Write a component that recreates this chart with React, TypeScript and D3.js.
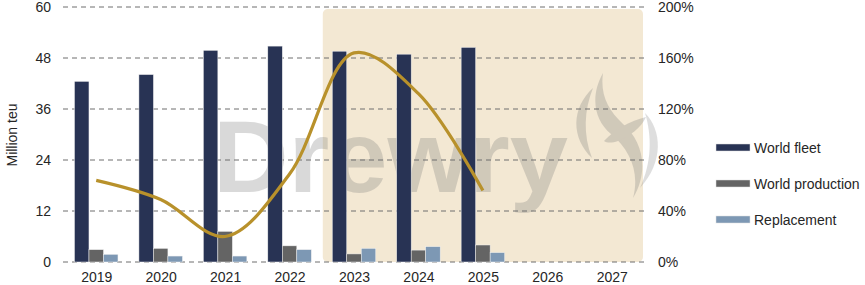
import React from "react";
import * as d3 from "d3";

const years = ["2019", "2020", "2021", "2022", "2023", "2024", "2025", "2026", "2027"];
const worldFleet = [42.5, 44.1, 49.8, 50.8, 49.6, 48.9, 50.5, null, null];
const worldProduction = [2.9, 3.2, 7.2, 3.8, 1.9, 2.8, 4.0, null, null];
const replacement = [1.8, 1.4, 1.4, 2.9, 3.2, 3.6, 2.2, null, null];
const ratioPct = [64, 49, 20, 69, 164, 132, 56, null, null];
const leftTicks = [0, 12, 24, 36, 48, 60];
const rightTicks = [0, 40, 80, 120, 160, 200];
const shadeFrom = "2023";
const seriesNames = ["World fleet", "World production", "Replacement"];
const colors = ["#283354", "#646464", "#7d98b4"];
const lineColor = "#b8912b";

const W = 865, H = 285;
const x0 = 64, x1 = 644, yTop = 7, yBot = 262;
const font = "Liberation Sans, Arial, sans-serif";

export default function App() {
  const x = d3.scaleBand<string>().domain(years).range([x0, x1]).paddingInner(0).paddingOuter(0);
  const yL = d3.scaleLinear().domain([0, 60]).range([yBot, yTop]);
  const yR = d3.scaleLinear().domain([0, 200]).range([yBot, yTop]);
  const sub = d3.scaleBand<number>().domain([0, 1, 2]).range([0, 43.5]);
  const groupOffset = (x.bandwidth() - 43.5) / 2;
  const series = [worldFleet, worldProduction, replacement];

  const linePts = years
    .map((yr, i) => ({ yr, v: ratioPct[i] }))
    .filter((d) => d.v != null) as { yr: string; v: number }[];
  const line = d3
    .line<{ yr: string; v: number }>()
    .x((d) => (x(d.yr) as number) + x.bandwidth() / 2)
    .y((d) => yR(d.v))
    .curve(d3.curveCatmullRom.alpha(0.5));

  const shadeX = (x(shadeFrom) as number) + 1;

  return (
    <svg width={W} height={H} style={{ position: "absolute", left: 0, top: 0 }}>
      <rect x={0} y={0} width={W} height={H} fill="#ffffff" />
      {/* forecast shading */}
      <rect x={shadeX} y={9} width={643 - shadeX} height={yBot - 9} rx={5} fill="#f3e8d3" />
      {/* watermark */}
      <g opacity={0.28} fill="#7a7a7a">
        <text x={213} y={192} fontFamily={font} fontSize={102} fontWeight={700} textLength={355} lengthAdjust="spacingAndGlyphs">
          Drewry
        </text>
        <path d="M593,88 C571,108 571,138 592,158 C583,135 584,110 593,88 Z" />
        <path d="M603,73 C590,96 594,120 611,134 C630,150 640,172 633,198 C650,170 642,140 623,124 C608,110 600,95 603,73 Z" />
        <path d="M604,141 C615,129 630,121 646,117 C641,128 630,136 618,141 C612,143 607,143 604,141 Z" />
      </g>
      <path d="M645,113 C662,130 664,162 640,188 C652,162 652,136 645,113 Z" fill="#7a7a7a" opacity={0.25} />
      {/* gridlines */}
      {leftTicks.map((t) => (
        <line key={t} x1={x0 - 1} x2={x1 + 1} y1={yL(t)} y2={yL(t)} stroke="#6e6e6e" strokeWidth={1} strokeDasharray="5,4" />
      ))}
      {/* bars */}
      {series.map((s, si) =>
        s.map((v, i) =>
          v == null ? null : (
            <rect
              key={si + "-" + i}
              x={(x(years[i]) as number) + groupOffset + (sub(si) as number)}
              y={yL(v)}
              width={sub.bandwidth()}
              height={yBot - yL(v)}
              fill={colors[si]}
              stroke="#f0f0f0"
              strokeWidth={0.5}
            />
          )
        )
      )}
      {/* line */}
      <path d={line(linePts) || ""} fill="none" stroke={lineColor} strokeWidth={3.2} strokeLinecap="butt" />
      {/* left axis labels */}
      {leftTicks.map((t) => (
        <text key={t} x={51} y={yL(t)} dy="0.35em" textAnchor="end" fontFamily={font} fontSize={14} fill="#262626">
          {t}
        </text>
      ))}
      {/* right axis labels */}
      {rightTicks.map((t) => (
        <text key={t} x={658} y={yR(t)} dy="0.35em" textAnchor="start" fontFamily={font} fontSize={14} fill="#262626">
          {t + "%"}
        </text>
      ))}
      {/* x labels */}
      {years.map((yr) => (
        <text key={yr} x={(x(yr) as number) + x.bandwidth() / 2 + 0.5} y={282} textAnchor="middle" fontFamily={font} fontSize={14} fill="#262626">
          {yr}
        </text>
      ))}
      <text transform={`translate(17,135) rotate(-90)`} textAnchor="middle" fontFamily={font} fontSize={14} fill="#262626">
        Million teu
      </text>
      {/* legend */}
      {seriesNames.map((n, i) => (
        <g key={n} transform={`translate(716,${148 + i * 36})`}>
          <rect x={0} y={-4} width={34} height={7} fill={colors[i]} stroke="#e0e0e0" strokeWidth={0.5} />
          <text x={38} y={0} dy="0.35em" fontFamily={font} fontSize={14} fill="#262626">
            {n}
          </text>
        </g>
      ))}
    </svg>
  );
}
